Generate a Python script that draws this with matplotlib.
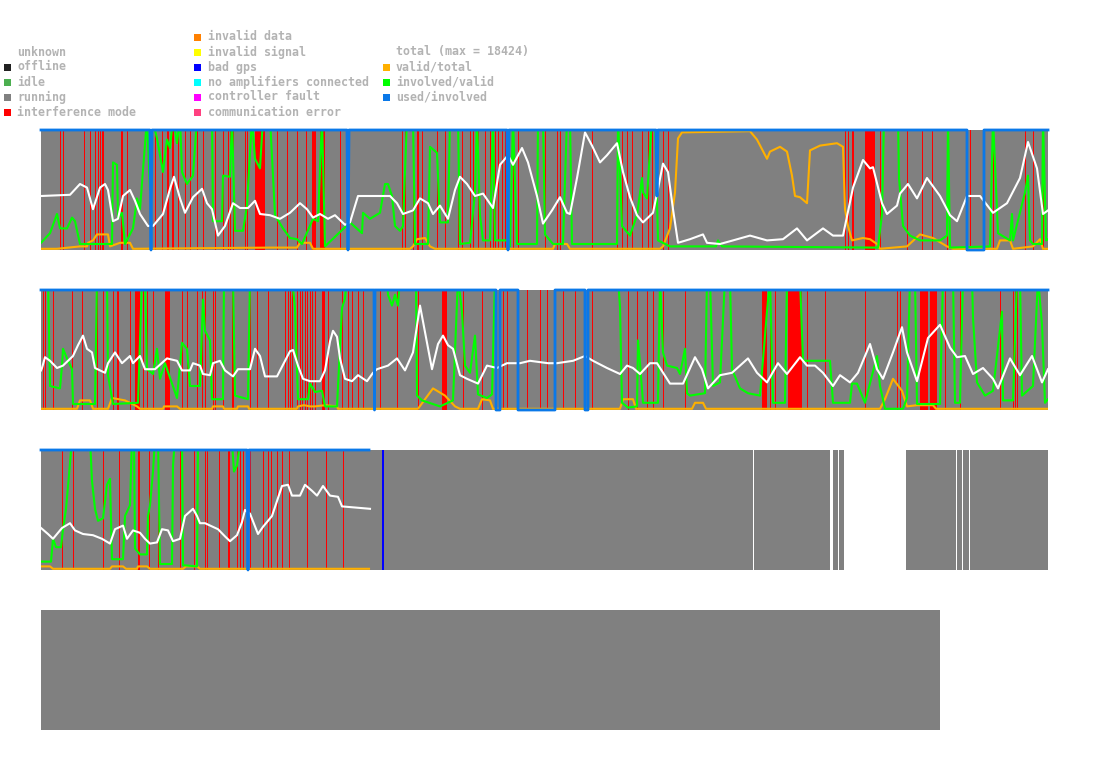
import numpy as np
import matplotlib.pyplot as plt
from matplotlib.patches import Rectangle

# colours of the states and ratios
OFFLINE = '#222222'
IDLE = '#4caf50'
RUNNING = '#808080'
INTERF = '#ff0000'
INV_DATA = '#ff8000'
INV_SIGNAL = '#ffff00'
BAD_GPS = '#0000ff'
NO_AMP = '#00ffff'
CTRL_FAULT = '#ff00ff'
COMM_ERR = '#ff4080'
VALID = '#ffb000'
INVOLVED = '#00ff00'
USED = '#0a78e8'
TEXT = '#b3b3b3'

total_max = 18424

# ---- row 1 (x = time slot in row, y = percent) ----
s1_total = [(0,45),(29,46),(39,55),(46,52),(52,34),(59,52),(64,55),(67,50),(72,24),(77,26),
            (82,45),(89,50),(94,41),(99,30),(107,20),(112,20),(122,30),(129,51),(133,61),(139,43),
            (144,31),(152,44),(161,51),(166,39),(171,34),(177,12),(184,20),(192,39),(199,35),(207,35),
            (214,41),(219,30),(229,29),(239,26),(249,31),(259,39),(266,34),(272,27),(279,30),(287,26),
            (294,29),(304,21),(309,23),(317,45),(336,45),(349,45),(356,39),(362,30),(372,33),(379,43),
            (387,39),(392,30),(399,37),(407,26),(414,50),(419,61),(426,55),(434,45),(442,47),(452,35),
            (459,71),(467,79),(472,71),(481,85),(487,73),(496,45),(502,22),(511,33),(519,44),(526,31),
            (529,30),(536,60),(544,98),(551,87),(559,73),(566,79),(576,89),(582,65),(589,44),(596,29),
            (602,23),(612,31),(617,51),(622,72),(627,65),(632,34),(637,6),(649,9),(662,13),(666,6),
            (679,5),(692,8),(709,12),(726,8),(742,9),(756,18),(766,8),(782,18),(792,12),(802,12),
            (812,52),(822,75),(829,68),(832,69),(841,39),(846,30),(856,37),(859,47),(867,55),(876,43),
            (886,60),(899,45),(909,29),(916,24),(926,45),(939,45),(952,31),(966,39),(979,60),(987,90),
            (996,68),(1002,30),(1007,33)]
s1_involved = [(0,6),(9,14),(16,30),(19,18),(26,18),(31,27),(34,24),(39,5),(71,5),(72,73),(76,71),
               (77,26),(81,31),(84,5),(92,18),(96,43),(99,34),(106,110),(109,50),(111,110),(116,93),
               (122,65),(126,92),(129,85),(132,110),(136,89),(139,110),(141,65),(146,55),(152,62),
               (156,110),(171,110),(172,24),(181,24),(182,62),(189,61),(191,110),(194,16),(202,16),
               (206,37),(211,110),(214,76),(219,68),(222,110),(229,110),(234,29),(242,18),(249,10),
               (256,9),(261,5),(272,26),(277,24),(281,110),(284,3),(309,23),(321,14),(322,31),(329,26),
               (339,31),(344,55),(347,55),(351,45),(354,20),(359,16),(362,20),(366,110),(372,110),
               (374,5),(387,5),(389,86),(396,81),(399,23),(407,23),(409,110),(417,110),(419,5),(429,6),
               (434,48),(436,110),(439,29),(442,8),(449,8),(452,110),(454,8),(466,8),(469,3),(472,110),
               (476,5),(496,5),(497,110),(502,110),(504,13),(512,5),(522,5),(526,110),(529,110),(531,5),
               (576,5),(577,110),(581,20),(589,12),(596,29),(601,60),(602,48),(606,43),(611,110),
               (614,110),(617,8),(629,3),(675,3),(677,8),(681,3),(837,2),(841,30),(843,110),(857,110),
               (858,60),(862,20),(869,12),(879,8),(899,8),(906,12),(907,110),(909,2),(949,3),(952,110),
               (957,14),(969,8),(971,30),(972,8),(984,48),(987,62),(989,8),(992,5),(1001,5),(1002,110),
               (1005,8),(1007,9)]
s1_valid = [(0,1),(16,1),(39,3),(46,3),(47,6),(52,8),(56,13),(67,13),(69,3),(79,6),(89,6),(92,1),
            (229,2),(256,2),(259,6),(269,6),(272,1),(369,1),(372,3),(376,9),(384,10),(389,3),(394,1),
            (512,1),(514,5),(526,5),(529,1),(619,1),(622,3),(629,18),(634,48),(637,93),(641,98),
            (709,99),(716,92),(726,76),(729,82),(739,86),(746,82),(751,62),(754,45),(759,44),(766,39),
            (769,83),(779,87),(796,89),(802,86),(804,34),(807,20),(811,8),(822,10),(829,9),(836,5),
            (839,1),(866,3),(879,13),(892,10),(906,3),(912,1),(956,1),(959,8),(969,8),(972,1),(992,3),
            (999,9),(1002,1),(1007,1)]
s1_used = [(0,100),(109,100),(110,0),(111,100),(306,100),(307,0),(308,100),(466,100),(467,0),(468,100),
           (615,100),(616,45),(617,100),(926,100),(926,0),(943,0),(943,100),(1007,100)]
s1_running = [(0, 1007)]
s1_interf = [19, 22, 43, 49, 54, 57, 59, 61, 62, 86, 114, 121, 126, 127, 131, 132, 137, 144, 149, 156,
             162, 174, 182, 187, 189, 192, 204, 206, 236, 246, 256, 265, 299, 361, 364, 372, 376, 377,
             381, 396, 404, 417, 421, 429, 432, 437, 444, 449, 452, 454, 457, 461, 464, 472, 477, 504,
             516, 519, 551, 576, 581, 586, 591, 601, 607, 611, 622, 627, 804, 807, 811, 812, 839, 866,
             881, 891, 906, 929, 952, 984, 992, 1002]
s1_interf_blocks = [(80, 82), (214, 224), (271, 275), (279, 284), (824, 834)]

# ---- row 2 ----
s2_total = [(0,33),(1,35),(4,44),(9,41),(16,35),(22,37),(32,45),(37,54),(42,62),(46,51),(51,48),
            (54,35),(64,31),(67,39),(74,48),(81,39),(89,45),(92,39),(99,45),(104,34),(114,34),
            (126,43),(136,41),(141,33),(149,33),(152,39),(159,37),(162,30),(169,29),(172,39),(179,41),
            (184,33),(192,28),(197,34),(209,34),(214,51),(219,45),(224,28),(236,28),(249,49),(252,50),
            (257,37),(262,26),(269,24),(279,24),(284,33),(289,57),(292,66),(296,61),(299,43),(304,26),
            (311,24),(317,29),(326,24),(332,31),(336,34),(347,37),(356,43),(364,33),(372,48),(379,87),
            (386,56),(391,34),(397,55),(402,62),(407,54),(412,51),(419,29),(426,26),(437,22),(446,37),
            (456,35),(466,39),(479,39),(489,41),(507,39),(516,39),(532,41),(544,45),(552,41),(566,35),
            (579,30),(586,37),(592,35),(599,30),(609,39),(616,39),(629,22),(642,22),(654,44),(661,34),
            (667,18),(679,29),(691,31),(707,43),(716,31),(726,23),(737,39),(746,30),(759,44),(766,37),
            (774,37),(782,31),(792,20),(799,29),(809,23),(817,31),(829,55),(836,34),(842,26),(852,48),
            (861,69),(866,48),(876,24),(887,60),(899,71),(909,52),(916,44),(924,45),(932,30),(942,35),
            (952,26),(957,18),(969,43),(979,29),(991,45),(1001,23),(1007,34)]
s2_involved = [(0,110),(7,110),(9,20),(19,18),(21,37),(22,51),(26,43),(31,34),(32,5),(54,5),(56,110),
               (66,110),(67,29),(72,5),(97,6),(101,110),(104,110),(106,34),(112,30),(116,51),(119,26),
               (124,39),(136,10),(141,56),(146,51),(149,20),(159,20),(162,92),(164,66),(169,58),(171,9),
               (182,9),(183,110),(192,110),(194,12),(207,9),(209,110),(251,110),(254,85),(257,9),
               (267,9),(269,22),(274,15),(281,16),(284,3),(296,3),(301,85),(304,93),(306,110),(346,110),
               (347,96),(351,87),(354,96),(357,87),(359,110),(375,110),(376,12),(381,8),(399,3),(412,8),
               (417,110),(421,82),(424,37),(429,31),(434,62),(437,13),(446,10),(451,13),(454,110),
               (577,110),(579,86),(581,6),(587,2),(596,3),(597,58),(599,39),(602,6),(617,6),(619,110),
               (622,48),(626,37),(636,35),(639,30),(644,51),(646,14),(649,12),(664,14),(666,110),
               (669,110),(672,20),(679,23),(684,110),(689,110),(691,34),(699,18),(707,14),(719,12),
               (726,82),(729,110),(732,6),(744,6),(746,110),(759,110),(762,41),(789,41),(792,6),(809,6),
               (811,22),(816,22),(824,6),(836,45),(839,20),(844,1),(862,1),(866,10),(869,110),(874,110),
               (876,5),(899,5),(902,110),(912,110),(914,6),(919,6),(922,110),(931,110),(932,77),(936,23),
               (944,12),(952,16),(961,82),(962,8),(972,8),(976,110),(979,110),(981,12),(992,20),
               (997,110),(1001,71),(1004,6),(1007,9)]
s2_valid = [(0,1),(36,1),(39,8),(49,8),(52,1),(67,1),(71,10),(84,8),(96,3),(99,1),(122,1),(123,3),
            (136,3),(139,1),(171,1),(172,3),(182,3),(183,1),(196,1),(197,3),(207,3),(208,1),(256,1),
            (257,3),(263,4),(269,3),(274,3),(284,4),(296,3),(297,1),(377,1),(384,9),(392,18),(404,12),
            (414,3),(419,1),(437,1),(441,9),(449,8),(452,1),(579,1),(582,9),(592,9),(595,1),(651,1),
            (654,6),(662,6),(665,1),(839,1),(844,9),(852,26),(861,16),(866,3),(876,4),(892,4),(895,1),
            (1007,1)]
s2_used = [(0,100),(333,100),(333.5,0),(334,100),(455,100),(455,0),(459,0),(459,100),(477,100),
           (477,0),(514,0),(514,100),(544,100),(544,0),(547,0),(547,100),(1007,100)]
s2_running = [(0, 1007)]
s2_interf = [2, 4, 12, 31, 41, 56, 62, 72, 76, 77, 89, 102, 106, 112, 141, 146, 156, 161, 164, 172,
             174, 182, 191, 192, 209, 216, 227, 244, 247, 249, 251, 256, 259, 261, 264, 266, 269, 271,
             274, 287, 301, 307, 311, 317, 322, 339, 356, 377, 422, 441, 462, 466, 486, 499, 506, 522,
             534, 551, 587, 596, 606, 612, 622, 644, 729, 734, 766, 784, 824, 856, 859, 904, 919, 959,
             972, 974, 976]
s2_interf_blocks = [(94, 99), (124, 129), (281, 284), (401, 406), (721, 726), (747, 761), (879, 887),
                    (889, 896)]

# ---- row 3 ----
s3_total = [(0,35),(7,30),(12,26),(21,35),(29,39),(34,33),(42,30),(52,29),(61,26),(69,22),(74,34),
            (82,37),(86,26),(92,33),(99,31),(104,26),(109,22),(116,23),(121,34),(127,33),(132,24),
            (139,26),(144,45),(152,51),(156,45),(159,39),(164,39),(177,34),(184,28),(189,24),(196,29),
            (201,40),(204,50),(209,47),(217,30),(222,36),(231,45),(237,60),(241,70),(247,71),(251,62),
            (259,62),(264,71),(271,66),(276,62),(282,70),(289,62),(297,61),(301,53),(329,51)]
s3_involved = [(0,7),(10,7),(12,26),(15,19),(20,19),(22,34),(25,51),(28,79),(31,110),(49,110),(51,74),
               (54,51),(57,41),(62,43),(66,71),(69,76),(71,9),(82,9),(84,45),(89,54),(91,110),(93,110),
               (94,18),(99,13),(106,13),(107,45),(109,54),(112,82),(114,110),(117,110),(119,5),(131,5),
               (132,87),(134,110),(141,110),(142,4),(156,3),(157,110),(191,110),(191.5,100),(193,82),
               (196,87),(198,100),(198.5,110)]
s3_valid = [(0,3),(9,3),(12,1),(69,1),(71,3),(82,3),(85,1),(96,1),(97,3),(106,3),(109,1),(142,1),
            (145,3),(156,3),(159,1),(328,1)]
s3_used = [(0,100),(206,100),(207,0),(208,100),(328,100)]
s3_running = [(0, 712), (713, 789), (791.7, 796.7), (798, 803), (865, 915), (916, 921),
              (922, 927.7), (929, 1007)]
s3_interf = [21, 32, 62, 78, 108, 117, 139, 153, 164, 166, 178, 196, 199, 202, 209, 222, 227, 230,
             236, 241, 248, 266, 285, 302]
s3_interf_blocks = [(97, 99), (187, 189)]
s3_bad_gps = [(341, 343)]

# ---- row 4 ----
s4_running = [(0, 899)]

W, H = 1095, 764
fig = plt.figure(figsize=(W / 100, H / 100), dpi=100)
fig.patch.set_facecolor('white')


def row_axes(top):
    ax = fig.add_axes([41 / W, 1 - (top + 120) / H, 1007 / W, 120 / H])
    ax.set_xlim(0, 1007)
    ax.set_ylim(0, 100)
    ax.axis('off')
    return ax


def span(ax, a, b, color, z):
    ax.axvspan(a, b, facecolor=color, edgecolor='none', lw=0, zorder=z, antialiased=False)


def draw_row(ax, running, interf=(), blocks=(), bad_gps=(), series=()):
    for a, b in running:
        span(ax, a, b, RUNNING, 0)
    for x in interf:
        span(ax, x, x + 1, INTERF, 1)
    for a, b in blocks:
        span(ax, a, b, INTERF, 1)
    for a, b in bad_gps:
        span(ax, a, b, BAD_GPS, 1)
    for data, color, lw, clip in series:
        x, y = np.array(data, dtype=float).T
        ax.plot(x, y, color=color, lw=lw, zorder=3, clip_on=clip)


ax1 = row_axes(130)
draw_row(ax1, s1_running, s1_interf, s1_interf_blocks,
         series=[(s1_valid, VALID, 1.5, True), (s1_involved, INVOLVED, 1.5, True),
                 (s1_total, 'white', 1.5, True), (s1_used, USED, 2.0, False)])

ax2 = row_axes(290)
draw_row(ax2, s2_running, s2_interf, s2_interf_blocks,
         series=[(s2_valid, VALID, 1.5, True), (s2_involved, INVOLVED, 1.5, True),
                 (s2_total, 'white', 1.5, True), (s2_used, USED, 2.0, False)])

ax3 = row_axes(450)
draw_row(ax3, s3_running, s3_interf, s3_interf_blocks, s3_bad_gps,
         series=[(s3_valid, VALID, 1.5, True), (s3_involved, INVOLVED, 1.5, True),
                 (s3_total, 'white', 1.5, True), (s3_used, USED, 2.0, False)])

ax4 = row_axes(610)
draw_row(ax4, s4_running)

# legend
col1 = [('unknown', None), ('offline', OFFLINE), ('idle', IDLE), ('running', RUNNING),
        ('interference mode', INTERF)]
col2 = [('invalid data', INV_DATA), ('invalid signal', INV_SIGNAL), ('bad gps', BAD_GPS),
        ('no amplifiers connected', NO_AMP), ('controller fault', CTRL_FAULT),
        ('communication error', COMM_ERR)]
col3 = [('total (max = %d)' % total_max, None), ('valid/total', VALID),
        ('involved/valid', INVOLVED), ('used/involved', USED)]

rows_y = [37, 52, 67, 82, 97, 112]
for items, first_row, sq_x, txt_x in [(col1, 1, 4, 17), (col2, 0, 194, 208), (col3, 1, 383, 396)]:
    for i, (label, color) in enumerate(items):
        y = rows_y[first_row + i]
        if color is not None:
            fig.add_artist(Rectangle((sq_x / W, 1 - (y + 3.5) / H), 7 / W, 7 / H,
                                     transform=fig.transFigure, color=color, lw=0))
        fig.text(txt_x / W, 1 - y / H, label, ha='left', va='center', color=TEXT,
                 fontsize=8.4, fontweight='bold', family='DejaVu Sans Mono')

fig.savefig('out.png', dpi=100)
